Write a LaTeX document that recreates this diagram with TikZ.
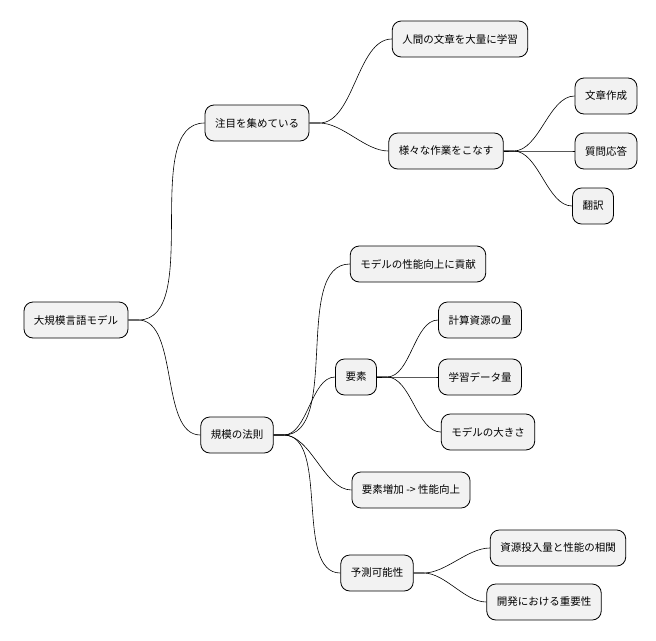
\documentclass[tikz,border=0pt]{standalone}
\usepackage{fontspec}
\newfontfamily\jpfont{Noto Sans CJK JP}
\begin{document}
\begin{tikzpicture}[x=1pt, y=-1pt, font=\jpfont\fontsize{10.5}{12}\selectfont]
    \tikzstyle{topic_style} = [draw=black, fill=black!5!, rounded corners=9pt, minimum height=36pt, inner xsep=10pt, line width=0.8pt]
    \tikzstyle{branch_style} = [draw=black, line width=0.6pt]
    \useasboundingbox (0,0) rectangle (656,640);
    \node[topic_style] (llm) at (76,320) {大規模言語モデル};
    \node[topic_style] (attn) at (257,123) {注目を集めている};
    \node[topic_style] (learn) at (460,39) {人間の文章を大量に学習};
    \node[topic_style] (tasks) at (446,151) {様々な作業をこなす};
    \node[topic_style] (write) at (606,96) {文章作成};
    \node[topic_style] (qa) at (606,151) {質問応答};
    \node[topic_style] (trans) at (593,206) {翻訳};
    \node[topic_style] (law) at (237,435) {規模の法則};
    \node[topic_style] (contrib) at (418,264) {モデルの性能向上に貢献};
    \node[topic_style] (elem) at (356,377) {要素};
    \node[topic_style] (comp) at (480,320) {計算資源の量};
    \node[topic_style] (data) at (480,377) {学習データ量};
    \node[topic_style] (size) at (488,432) {モデルの大きさ};
    \node[topic_style] (grow) at (411,490) {要素増加 -> 性能向上};
    \node[topic_style] (pred) at (377,573) {予測可能性};
    \node[topic_style] (corr) at (558,548) {資源投入量と性能の相関};
    \node[topic_style] (dev) at (544,602) {開発における重要性};
    \foreach \p/\c in {llm/attn, llm/law, attn/learn, attn/tasks, tasks/write, tasks/qa, tasks/trans,
        law/contrib, law/elem, law/grow, law/pred, elem/comp, elem/data, elem/size, pred/corr, pred/dev}
        \draw[branch_style] (\p.east) -- ++(10,0) to[out=0, in=180, looseness=0.8] (\c.west);
\end{tikzpicture}
\end{document}
